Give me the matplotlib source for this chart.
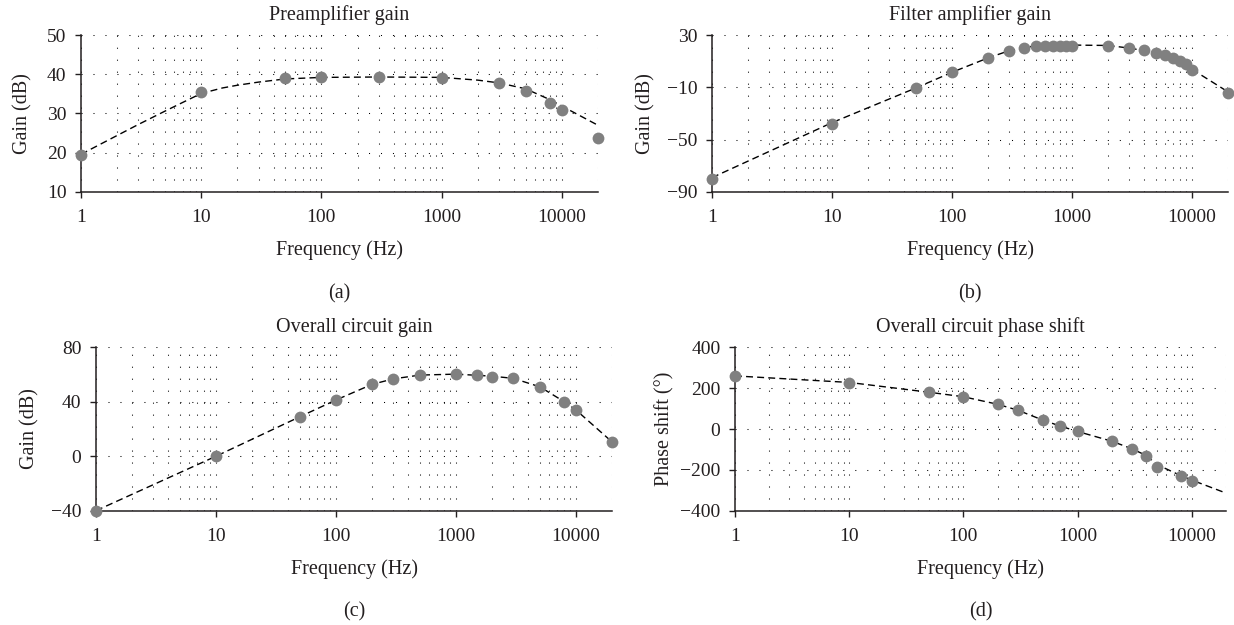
import matplotlib
matplotlib.use("Agg")
import matplotlib.pyplot as plt
from matplotlib.ticker import FixedLocator, LogLocator, NullFormatter

plt.rcParams["font.family"] = ["Liberation Serif", "DejaVu Serif"]

freq_ticks = [1, 10, 100, 1000, 10000]
freq_labels = ["1", "10", "100", "1000", "10000"]

# (a) preamplifier gain
pre_f = [1, 10, 50, 100, 300, 1000, 3000, 5000, 8000, 10000, 20000]
pre_gain = [19.3, 35.5, 39.0, 39.3, 39.3, 39.1, 37.8, 35.8, 32.8, 31.0, 23.7]
pre_trend_f = [1, 2, 3, 5, 7, 10, 15, 20, 30, 50, 100, 300, 1000, 2000, 3000, 5000, 8000, 10000, 20000]
pre_trend = [19.6, 24.4, 27.2, 30.6, 32.8, 35.1, 36.5, 37.2, 38.0, 38.8, 39.2, 39.3, 39.2, 38.5, 37.8, 36.3, 33.5, 31.9, 27.0]

# (b) filter amplifier gain
filt_f = [1, 10, 50, 100, 200, 300, 400, 500, 600, 700, 800, 900, 1000,
          2000, 3000, 4000, 5000, 6000, 7000, 8000, 9000, 10000, 20000]
filt_gain = [-80.0, -38.0, -10.7, 1.5, 12.4, 18.0, 20.3, 21.6, 21.8, 21.8, 21.8, 21.8, 21.8,
             21.4, 19.8, 18.3, 16.5, 14.7, 12.2, 10.1, 7.6, 3.3, -14.1]
filt_trend_f = [1, 10, 50, 100, 200, 300, 500, 1000, 2000, 3000, 5000, 8000, 10000, 20000]
filt_trend = [-79.0, -37.0, -10.5, 1.5, 12.5, 18.0, 21.8, 22.3, 22.0, 20.0, 16.5, 9.8, 3.8, -13.5]

# (c) overall circuit gain
tot_f = [1, 10, 50, 100, 200, 300, 500, 1000, 1500, 2000, 3000, 5000, 8000, 10000, 20000]
tot_gain = [-40.0, 0.0, 29.0, 41.3, 52.8, 56.7, 59.9, 60.2, 59.4, 58.4, 57.2, 50.8, 39.6, 33.7, 10.4]
tot_trend_f = [1, 10, 50, 100, 200, 300, 500, 1000, 2000, 3000, 5000, 8000, 10000, 20000]
tot_trend = [-40.0, 0.0, 29.0, 41.3, 52.8, 56.8, 59.6, 60.3, 58.8, 57.2, 51.0, 40.0, 34.0, 10.5]

# (d) overall circuit phase shift
ph_f = [1, 10, 50, 100, 200, 300, 500, 700, 1000, 2000, 3000, 4000, 5000, 8000, 10000]
ph_deg = [260, 227, 180, 157, 121, 91, 42, 14, -12, -60, -98, -130, -188, -228, -254]
ph_trend_f = [1, 10, 50, 100, 200, 300, 500, 700, 1000, 2000, 3000, 4000, 5000, 8000, 10000, 20000]
ph_trend = [260, 228, 180, 158, 121, 92, 43, 15, -12, -60, -97, -130, -175, -228, -250, -314]

panels = [
    dict(rect=[0.0656, 0.6928, 0.419, 0.2512], title="Preamplifier gain", letter="(a)",
         ylabel="Gain (dB)", f=pre_f, v=pre_gain, tf=pre_trend_f, tv=pre_trend,
         ylim=(10, 50), yticks=[10, 20, 30, 40, 50], ypad=10),
    dict(rect=[0.577, 0.6928, 0.4182, 0.2512], title="Filter amplifier gain", letter="(b)",
         ylabel="Gain (dB)", f=filt_f, v=filt_gain, tf=filt_trend_f, tv=filt_trend,
         ylim=(-90, 30), yticks=[-90, -50, -10, 30], ypad=8),
    dict(rect=[0.0778, 0.1829, 0.4182, 0.2614], title="Overall circuit gain", letter="(c)",
         ylabel="Gain (dB)", f=tot_f, v=tot_gain, tf=tot_trend_f, tv=tot_trend,
         ylim=(-40, 80), yticks=[-40, 0, 40, 80], ypad=8),
    dict(rect=[0.5956, 0.1829, 0.398, 0.2614], title="Overall circuit phase shift", letter="(d)",
         ylabel="Phase shift (°)", f=ph_f, v=ph_deg, tf=ph_trend_f, tv=ph_trend,
         ylim=(-400, 400), yticks=[-400, -200, 0, 200, 400], ypad=4),
]

fig = plt.figure(figsize=(12.34, 6.25), dpi=100)
dot = (0, (1, 10.5))

for p in panels:
    ax = fig.add_axes(p["rect"])
    ax.set_xscale("log")
    ax.set_xlim(1, 20000)
    ax.set_ylim(*p["ylim"])
    ax.xaxis.set_major_locator(FixedLocator(freq_ticks))
    ax.set_xticklabels(freq_labels)
    ax.xaxis.set_minor_locator(LogLocator(base=10, subs=range(2, 10), numticks=20))
    ax.xaxis.set_minor_formatter(NullFormatter())
    ax.set_yticks(p["yticks"])
    ax.tick_params(axis="both", which="major", direction="out", length=4.5, width=1.0,
                   labelsize=14, pad=6, colors="#231f20")
    ax.tick_params(axis="x", which="major", pad=8)
    ax.tick_params(axis="x", which="minor", length=0)
    for side in ("top", "right"):
        ax.spines[side].set_visible(False)
    for side in ("left", "bottom"):
        ax.spines[side].set_linewidth(1.1)
        ax.spines[side].set_color("#231f20")
    ax.grid(True, axis="x", which="both", color="black", linewidth=0.75, linestyle=dot)
    ax.grid(True, axis="y", which="major", color="black", linewidth=0.75, linestyle=dot)
    ax.set_axisbelow(True)

    ax.plot(p["tf"], p["tv"], color="black", linewidth=1.0, linestyle=(0, (5, 3)), zorder=2)
    ax.plot(p["f"], p["v"], "o", color="#808080", markersize=8.5, markeredgewidth=0,
            clip_on=False, zorder=3)

    ax.set_title(p["title"], fontsize=14.5, pad=11, color="#231f20")
    ax.set_xlabel("Frequency (Hz)", fontsize=14.5, labelpad=10, color="#231f20")
    ax.set_ylabel(p["ylabel"], fontsize=14.5, labelpad=p["ypad"], color="#231f20")
    ax.annotate(p["letter"], xy=(0.5, 0), xycoords="axes fraction", xytext=(0, -73),
                textcoords="offset points", ha="center", va="center", fontsize=14.5,
                color="#231f20")

fig.savefig("out.png", dpi=100)
